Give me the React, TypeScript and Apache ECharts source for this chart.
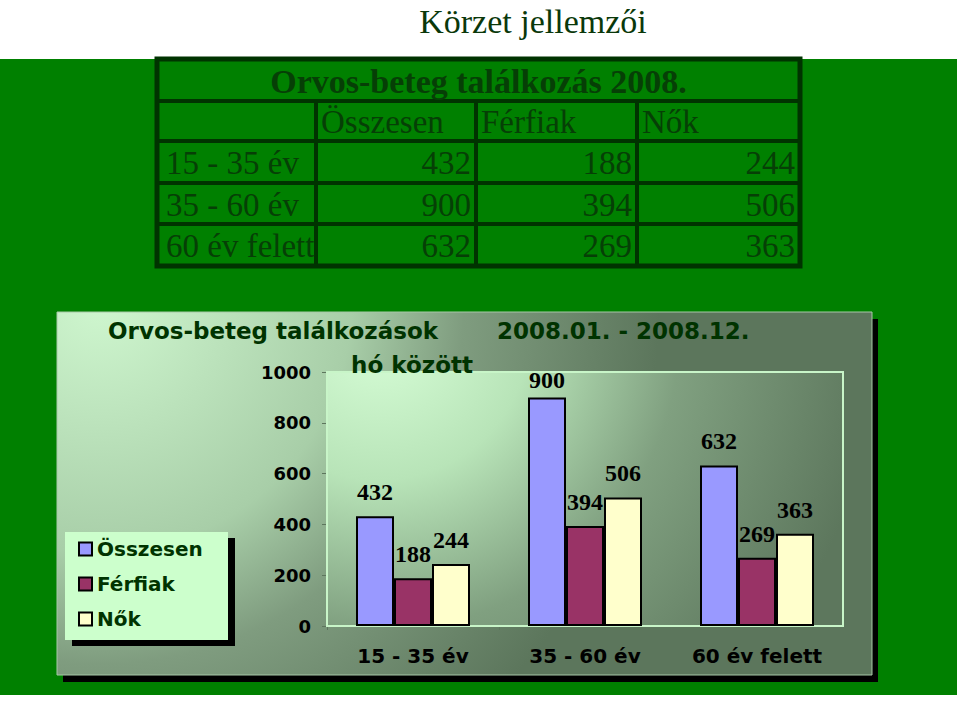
import React, { useEffect, useRef } from 'react';
import * as echarts from 'echarts';

// ---- data ----
const categories = ['15 - 35 év', '35 - 60 év', '60 év felett'];
const seriesNames = ['Összesen', 'Férfiak', 'Nők'];
const osszesen = [432, 900, 632];
const ferfiak = [188, 394, 269];
const nok = [244, 506, 363];
const seriesValues = [osszesen, ferfiak, nok];
const seriesColors = ['#9999ff', '#993366', '#ffffcc'];

const pageTitle = 'Körzet jellemzői';
const tableTitle = 'Orvos-beteg találkozás 2008.';
const chartTitleA = 'Orvos-beteg találkozások';
const chartTitleB = '2008.01. - 2008.12.';
const chartTitleC = 'hó között';

const Y_MIN = 0;
const Y_MAX = 1000;
const Y_STEP = 200;

// ---- layout ----
const W = 960;
const H = 702;
const GRID = { left: 327, top: 372, width: 516, height: 254 };
const TABLE_X = [157, 316, 476, 637, 800];
const TABLE_Y = [59, 101, 141, 183, 224, 266];
const DARK = '#003300';

function buildGraphics() {
  const els: any[] = [];
  // green slide background
  els.push({ type: 'rect', z: -20, shape: { x: 0, y: 59, width: 957, height: 636 }, style: { fill: '#008000' } });
  // page title
  els.push({
    type: 'text', z: 5,
    style: { text: pageTitle, x: 533, y: 21, textAlign: 'center', textVerticalAlign: 'middle', font: '34px "Liberation Serif"', fill: '#0a380a' },
  });
  // table lines
  const x0 = TABLE_X[0], x1 = TABLE_X[TABLE_X.length - 1];
  const y0 = TABLE_Y[0], y1 = TABLE_Y[TABLE_Y.length - 1];
  for (let i = 1; i < TABLE_Y.length - 1; i++) {
    els.push({ type: 'rect', z: -10, shape: { x: x0, y: TABLE_Y[i] - 2, width: x1 - x0, height: 4 }, style: { fill: DARK } });
  }
  for (let i = 1; i < TABLE_X.length - 1; i++) {
    els.push({ type: 'rect', z: -10, shape: { x: TABLE_X[i] - 2, y: TABLE_Y[1], width: 4, height: y1 - TABLE_Y[1] }, style: { fill: DARK } });
  }
  els.push({ type: 'rect', z: -9, shape: { x: x0, y: y0, width: x1 - x0, height: y1 - y0 }, style: { fill: 'none', stroke: DARK, lineWidth: 5 } });
  const tFont = '33px "Liberation Serif"';
  const tColor = '#063f06';
  els.push({
    type: 'text', z: 5,
    style: { text: tableTitle, x: (x0 + x1) / 2, y: (TABLE_Y[0] + TABLE_Y[1]) / 2 + 1, textAlign: 'center', textVerticalAlign: 'middle', font: 'bold 34px "Liberation Serif"', fill: tColor },
  });
  seriesNames.forEach((n, j) => {
    els.push({
      type: 'text', z: 5,
      style: { text: n, x: TABLE_X[j + 1] + 5, y: (TABLE_Y[1] + TABLE_Y[2]) / 2 + 1, textAlign: 'left', textVerticalAlign: 'middle', font: tFont, fill: tColor },
    });
  });
  categories.forEach((c, i) => {
    const cy = (TABLE_Y[i + 2] + TABLE_Y[i + 3]) / 2 + 1;
    els.push({
      type: 'text', z: 5,
      style: { text: c, x: TABLE_X[0] + 9, y: cy, textAlign: 'left', textVerticalAlign: 'middle', font: tFont, fill: tColor },
    });
    seriesValues.forEach((vals, j) => {
      els.push({
        type: 'text', z: 5,
        style: { text: String(vals[i]), x: TABLE_X[j + 2] - 5, y: cy, textAlign: 'right', textVerticalAlign: 'middle', font: tFont, fill: tColor },
      });
    });
  });

  // chart panel with shadow
  const P = { x: 57, y: 312, width: 815, height: 363 };
  els.push({ type: 'rect', z: -8, shape: { x: P.x + 6, y: P.y + 7, width: P.width, height: P.height }, style: { fill: '#000' } });
  els.push({
    type: 'rect', z: -7, shape: P,
    style: {
      fill: new echarts.graphic.RadialGradient(100, 300, 560, [
        { offset: 0, color: '#cff7cf' },
        { offset: 0.45, color: '#a8cea8' },
        { offset: 0.65, color: '#7f9c7f' },
        { offset: 1, color: '#5c765c' },
      ], true),
      stroke: '#a8c8a8', lineWidth: 1,
    },
  });
  // chart title
  const ctFont = 'bold 23px "DejaVu Sans"';
  els.push({ type: 'text', z: 5, style: { text: chartTitleA, x: 108, y: 331, textAlign: 'left', textVerticalAlign: 'middle', font: ctFont, fill: DARK } });
  els.push({ type: 'text', z: 5, style: { text: chartTitleB, x: 497, y: 331, textAlign: 'left', textVerticalAlign: 'middle', font: ctFont, fill: DARK } });
  els.push({ type: 'text', z: 5, style: { text: chartTitleC, x: 412, y: 365, textAlign: 'center', textVerticalAlign: 'middle', font: ctFont, fill: DARK } });

  // legend box with shadow
  const L = { x: 65, y: 532, width: 163, height: 108 };
  els.push({ type: 'rect', z: -6, shape: { x: L.x + 7, y: L.y + 6, width: L.width, height: L.height }, style: { fill: '#000' } });
  els.push({ type: 'rect', z: -5, shape: L, style: { fill: '#ccffcc' } });
  return els;
}

export default function App() {
  const ref = useRef<HTMLDivElement>(null);
  useEffect(() => {
    if (!ref.current) return;
    const chart = echarts.init(ref.current, undefined, { renderer: 'svg' });
    const labelBase = {
      show: true,
      position: 'top',
      distance: 12,
      color: '#000',
      fontFamily: '"Liberation Serif"',
      fontWeight: 'bold',
      fontSize: 24,
    };
    const series = seriesValues.map((vals, i) => ({
      name: seriesNames[i],
      type: 'bar',
      barWidth: 38,
      barGap: '0%',
      z: 3,
      itemStyle: { color: seriesColors[i], borderColor: '#000', borderWidth: 2 },
      label: labelBase,
      data: vals.map((v) => {
        const room = ((Y_MAX - v) / (Y_MAX - Y_MIN)) * GRID.height - 20;
        return room < 12 ? { value: v, label: { distance: Math.max(4, room) } } : v;
      }),
    }));
    chart.setOption({
      animation: false,
      backgroundColor: '#ffffff',
      graphic: { elements: buildGraphics() },
      legend: {
        data: seriesNames.map((n) => ({ name: n, icon: 'rect' })),
        orient: 'vertical',
        left: 78,
        top: 539,
        padding: 0,
        itemWidth: 13,
        itemHeight: 13,
        itemGap: 15,
        itemTextGap: 9,
        z: 10,
        textStyle: { fontFamily: '"DejaVu Sans"', fontWeight: 'bold', fontSize: 20, color: DARK },
      },
      grid: {
        left: GRID.left,
        top: GRID.top,
        width: GRID.width,
        height: GRID.height,
        show: true,
        z: 1,
        borderColor: '#c8f5c8',
        borderWidth: 2,
        backgroundColor: new echarts.graphic.RadialGradient(380, 330, 500, [
          { offset: 0, color: '#d8ffd8' },
          { offset: 0.3, color: '#b8e4b8' },
          { offset: 0.6, color: '#80a080' },
          { offset: 1, color: '#5d775d' },
        ], true),
      },
      xAxis: {
        type: 'category',
        data: categories,
        axisLine: { show: false },
        axisTick: { show: true, length: 4, lineStyle: { color: '#5d765d' } },
        axisLabel: { margin: 20, color: '#000', fontFamily: '"DejaVu Sans"', fontWeight: 'bold', fontSize: 20 },
      },
      yAxis: {
        type: 'value',
        min: Y_MIN,
        max: Y_MAX,
        interval: Y_STEP,
        axisLine: { show: false },
        axisTick: { show: true, length: 5, lineStyle: { color: '#5d765d' } },
        splitLine: { show: true, lineStyle: { color: 'rgba(45,70,45,0.55)', width: 1 } },
        axisLabel: {
          margin: 16, color: '#000', fontFamily: '"DejaVu Sans"', fontWeight: 'bold', fontSize: 18,
          formatter: (v: number) => String(v),
        },
      },
      series,
    });
    return () => chart.dispose();
  }, []);
  return <div ref={ref} style={{ position: 'absolute', left: 0, top: 0, width: W, height: H }} />;
}
